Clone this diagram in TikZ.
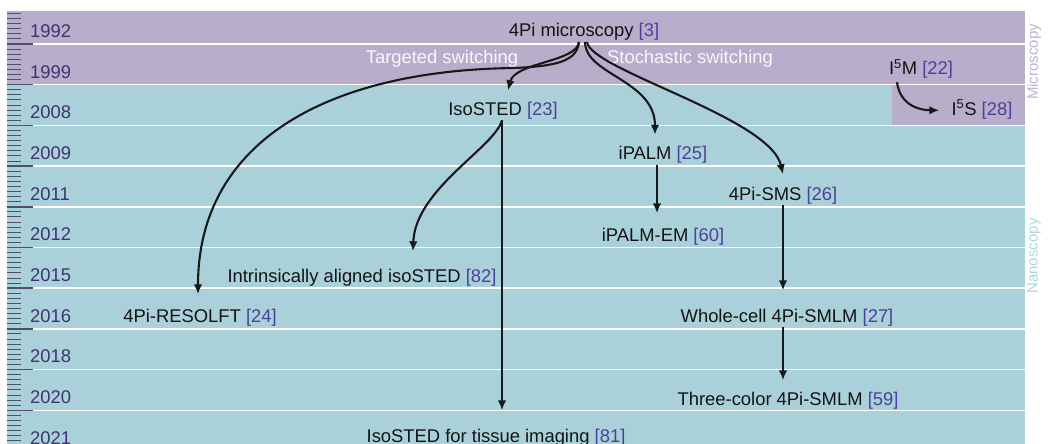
\documentclass[tikz,border=0pt]{standalone}
\usepackage{fontspec}
\setmainfont{Liberation Sans}
\usetikzlibrary{arrows.meta}

\definecolor{microband}{RGB}{184,174,204}
\definecolor{nanoband}{RGB}{170,209,218}
\definecolor{yearcol}{RGB}{62,52,112}
\definecolor{refcol}{RGB}{76,64,152}
\definecolor{tickcol}{RGB}{80,78,112}
\definecolor{microlabel}{RGB}{188,178,212}
\definecolor{nanolabel}{RGB}{176,213,222}

\newcommand{\refno}[1]{\textcolor{refcol}{[#1]}}

\begin{document}
\begin{tikzpicture}[
  x=1pt, y=-1pt,
  >={Latex[length=10pt,width=8.5pt]},
  entry/.style={font=\fontsize{18.4}{20}\selectfont, text=black!92, inner sep=1pt, text height=13.5pt, text depth=4pt, anchor=base},
  year/.style={entry, text=yearcol, anchor=base west},
  branch/.style={entry, text=white!90!microband},
  side/.style={font=\fontsize{15}{16}\selectfont, rotate=90, inner sep=0pt},
  arrow/.style={->, line width=2.1pt, draw=black!90}
]
\def\yTop{11}
\def\yFirst{44}
\def\rowH{40.7}
\def\xLeft{7}
\def\xRight{1025}
\useasboundingbox (0,0) rectangle (1053,444);
% bands
\fill[microband] (\xLeft,\yTop) rectangle (\xRight,85);
\fill[nanoband] (\xLeft,85) rectangle (\xRight,444);
\fill[microband] (892,85) rectangle (\xRight,126);
% row lines and ruler
\foreach \i in {0,...,9} {
  \draw[white, line width=1.5pt] (33,{\yFirst+\rowH*\i}) -- (\xRight,{\yFirst+\rowH*\i});
  \draw[tickcol, line width=1.5pt] (\xLeft,{\yFirst+\rowH*\i}) -- (33,{\yFirst+\rowH*\i});
}
\begin{scope}
\clip (0,\yTop) rectangle (40,444);
\foreach \k in {-1,...,9}
  \foreach \j in {1,...,7}
    \draw[tickcol, line width=1pt] (\xLeft,{\yFirst+\rowH*\k+\rowH*\j/8}) -- (20.5,{\yFirst+\rowH*\k+\rowH*\j/8});
\end{scope}
% years
\foreach \yr [count=\n from 0] in {1992,1999,2008,2009,2011,2012,2015,2016,2018,2020,2021}
  \node[year] (y\yr) at (29,{37.5+40.65*\n}) {\yr};
% side labels
\node[side, text=microlabel] (microscopy) at (1034,62) {Microscopy};
\node[side, text=nanolabel] (nanoscopy) at (1034,256) {Nanoscopy};
% entries
\node[entry] (micro) at (584,36.7) {4Pi microscopy \refno{3}};
\node[branch] (targeted) at (442,63.5) {Targeted switching};
\node[branch] (stochastic) at (690,63.5) {Stochastic switching};
\node[entry] (i5m) at (921,75) {I\textsuperscript{5}M \refno{22}};
\node[entry] (i5s) at (982,115) {I\textsuperscript{5}S \refno{28}};
\node[entry] (isosted) at (503,115) {IsoSTED \refno{23}};
\node[entry] (ipalm) at (663,159.5) {iPALM \refno{25}};
\node[entry] (sms) at (783,200) {4Pi-SMS \refno{26}};
\node[entry] (ipalmem) at (663,241) {iPALM-EM \refno{60}};
\node[entry] (intrinsic) at (362,282) {Intrinsically aligned isoSTED \refno{82}};
\node[entry] (resolft) at (200,322) {4Pi-RESOLFT \refno{24}};
\node[entry] (wholecell) at (787,322) {Whole-cell 4Pi-SMLM \refno{27}};
\node[entry] (threecolor) at (788,405) {Three-color 4Pi-SMLM \refno{59}};
\node[entry] (tissue) at (496,442) {IsoSTED for tissue imaging \refno{81}};
% connectors
\draw[arrow] ([xshift=-5pt]micro.south) .. controls +(-2,20) and +(40,-2) .. (515,68)
  .. controls (330,70) and (198,140) .. ([xshift=-2pt,yshift=13pt]resolft.north);
\draw[arrow] ([xshift=-5pt]micro.south) .. controls +(-2,20) and +(7,-28) .. ([xshift=5pt,yshift=10pt]isosted.north);
\draw[arrow] ([xshift=1pt]micro.south) .. controls +(0,33) and +(0,-55) .. ([xshift=-8pt,yshift=10pt]ipalm.north);
\draw[arrow] ([xshift=3pt]micro.south) .. controls +(3,28) and +(-13,-57) .. ([yshift=11pt]sms.north);
\draw[arrow] ([xshift=-1pt]isosted.south) .. controls +(-7,27) and +(2,-62) .. ([xshift=51pt,yshift=16pt]intrinsic.north);
\draw[arrow] ([xshift=-1pt]isosted.south) -- ([xshift=-1pt,yshift=17pt]isosted.south |- tissue.north);
\draw[arrow] ([xshift=-6pt]ipalm.south) -- ([xshift=-6pt,yshift=13pt]ipalm.south |- ipalmem.north);
\draw[arrow] (sms.south) -- ([yshift=17pt]sms.south |- wholecell.north);
\draw[arrow] ([xshift=-4pt]wholecell.south) -- ([xshift=-4pt,yshift=10pt]wholecell.south |- threecolor.north);
\draw[arrow] ([xshift=-24pt,yshift=-2pt]i5m.south) .. controls +(3,23) and +(-20,0) .. ([xshift=-11pt]i5s.west);
\end{tikzpicture}
\end{document}
